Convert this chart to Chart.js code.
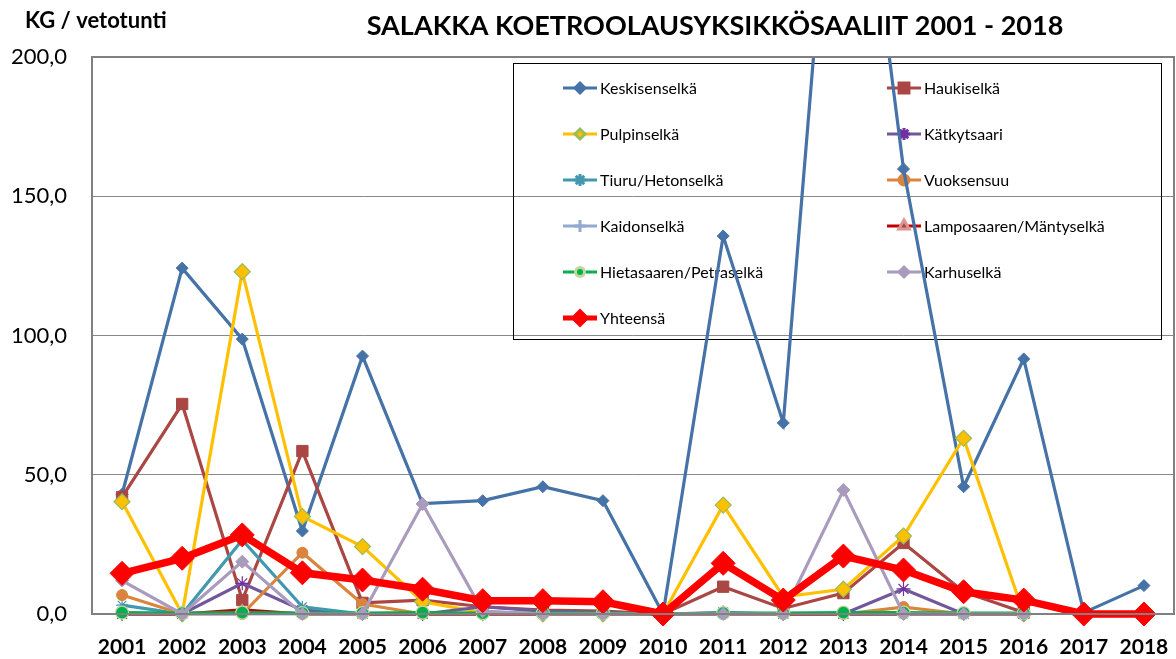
<!DOCTYPE html>
<html><head><meta charset="utf-8">
<script src="https://cdn.jsdelivr.net/npm/chart.js@4.4.0/dist/chart.umd.min.js"></script>
<style>html,body{margin:0;padding:0;background:#fff;}#wrap{width:1176px;height:659px;position:relative;}</style>
</head><body><div id="wrap"><canvas id="c" width="1176" height="659"></canvas></div>
<script>
const years = ['2001','2002','2003','2004','2005','2006','2007','2008','2009','2010','2011','2012','2013','2014','2015','2016','2017','2018'];
const keskisenselka = [43, 124.2, 98.7, 29.8, 92.6, 39.6, 40.7, 45.7, 40.7, 0, 135.7, 68.6, 330, 159.8, 45.7, 91.6, 0.5, 10.2];
const haukiselka = [42, 75.4, 5, 58.5, 4, 5, 2.6, 1.4, 1, 0, 9.8, 2, 7.5, 25.5, 8, 0.5, null, null];
const pulpinselka = [40.3, 0, 122.9, 35, 24.2, 4.4, 0.5, 0, 0, 0, 39.1, 6.2, 8.9, 28, 63.1, 0, null, null];
const katkytsaari = [0, 0, 11, 1.4, 0, 0, 2.6, 1, 0.5, 0, 0.5, 0, 0, 9, 0, 0, null, null];
const tiuru = [3.2, 0, 26.6, 2.6, 0, 0, 0, 0, 0, 0, 0, 0, 0, 0, 0, 0, null, null];
const vuoksensuu = [6.8, 0, 0, 22, 3.6, 0, 0, 0, 0, 0, 0, 0, 0, 2.5, 0, 0, null, null];
const kaidonselka = [0, 0, 0, 0, 0, 0, 0, 0, 0, 0, 0, 0, 0, 0, 0, 0, null, null];
const lamposaari = [0, 0, 1.5, 0, 0, 0, 0, 0, 0, 0, 0, 0, 0, 0, 0, 0, null, null];
const hietasaari = [0.5, 0.3, 0.5, 0.3, 0.3, 0.5, 0.3, 0.3, 0.3, 0, 0.3, 0.3, 0.5, 0.5, 0.3, 0.3, null, null];
const karhuselka = [12, 0, 18.8, 0, 0, 39.5, 1, 0, 0, 0, 0, 0, 44.5, 0, 0, 0, null, null];
const yhteensa = [14.6, 20, 28.4, 14.8, 12.2, 8.9, 4.8, 4.8, 4.4, 0, 18.2, 5, 20.8, 15.8, 8, 5, 0, 0];
const yTicks = [0, 50, 100, 150, 200];

const series = [
  {label:'Keskisenselkä', data:keskisenselka, line:'#4572A7', fill:'#4572A7', border:'#4572A7', style:'rectRot', r:6, bw:1, lr:5},
  {label:'Haukiselkä', data:haukiselka, line:'#AA4643', fill:'#AA4643', border:'#AA4643', style:'rect', r:8, bw:1, lr:7},
  {label:'Pulpinselkä', data:pulpinselka, line:'#FFC000', fill:'#FFC000', border:'#9BBB59', style:'rectRot', r:8, bw:1.2, lr:5},
  {label:'Kätkytsaari', data:katkytsaari, line:'#71589A', fill:'#7030A0', border:'#7030A0', style:'star', r:7, bw:1.2, lr:6},
  {label:'Tiuru/Hetonselkä', data:tiuru, line:'#4198AF', fill:'#4198AF', border:'#4198AF', style:'star', r:6, bw:1.2, lr:6},
  {label:'Vuoksensuu', data:vuoksensuu, line:'#DB843D', fill:'#DB843D', border:'#DB843D', style:'circle', r:5.5, bw:1, lr:5},
  {label:'Kaidonselkä', data:kaidonselka, line:'#93A9CF', fill:'#93A9CF', border:'#93A9CF', style:'cross', r:6, bw:1.5, lr:6},
  {label:'Lamposaaren/Mäntyselkä', data:lamposaari, line:'#C00000', fill:'#AA4643', border:'#D99694', style:'triangle', r:6, bw:1, lr:6},
  {label:'Hietasaaren/Petraselkä', data:hietasaari, line:'#00B050', fill:'#00B050', border:'#C3D69B', style:'circle', r:6.5, bw:1.2, lr:4.5},
  {label:'Karhuselkä', data:karhuselka, line:'#A99BBD', fill:'#A99BBD', border:'#A99BBD', style:'rectRot', r:6.5, bw:1, lr:5},
  {label:'Yhteensä', data:yhteensa, line:'#FF0000', fill:'#FF0000', border:'#FF0000', style:'rectRot', r:12, bw:1, lr:6, lw:7.5, llw:5}
];

const n = series.length;
const datasets = series.map((s, i) => ({
  label: s.label,
  data: s.data,
  borderColor: s.line,
  backgroundColor: s.fill,
  borderWidth: s.lw || 3.2,
  pointStyle: s.style,
  pointRadius: s.r,
  pointHoverRadius: s.r,
  pointBackgroundColor: s.fill,
  pointBorderColor: s.border,
  pointBorderWidth: s.bw,
  tension: 0,
  order: n - i,
  clip: {top: 0, left: false, right: false, bottom: false}
}));

const FONT = 'Lato, "Open Sans", sans-serif';

const decor = {
  id: 'decor',
  beforeDatasetsDraw(chart) {
    const ctx = chart.ctx;
    ctx.save();
    const bx = 513, by = 63, bw = 648, bh = 276;
    ctx.strokeStyle = '#000';
    ctx.lineWidth = 1;
    ctx.strokeRect(bx + 0.5, by + 0.5, bw, bh);
    ctx.font = '16px ' + FONT;
    ctx.textBaseline = 'middle';
    ctx.textAlign = 'left';
    series.forEach((s, i) => {
      const col = i % 2, row = Math.floor(i / 2);
      const x0 = col === 0 ? 563 : 887;
      const y = 88 + row * 46;
      ctx.strokeStyle = s.line;
      ctx.lineWidth = s.llw || 3;
      ctx.beginPath(); ctx.moveTo(x0, y); ctx.lineTo(x0 + 34, y); ctx.stroke();
      ctx.fillStyle = s.fill; ctx.strokeStyle = s.border;
      Chart.helpers.drawPoint(ctx, {pointStyle: s.style, radius: s.lr, rotation: 0, borderWidth: s.bw}, x0 + 17, y);
      ctx.fillStyle = '#000';
      ctx.fillText(s.label, x0 + 37, y + 1);
    });
    ctx.restore();
  },
  afterDraw(chart) {
    const ctx = chart.ctx, a = chart.chartArea;
    ctx.save();
    ctx.strokeStyle = '#808080';
    ctx.lineWidth = 2;
    ctx.strokeRect(a.left, a.top, a.right - a.left, a.bottom - a.top);
    ctx.fillStyle = '#000';
    ctx.textBaseline = 'alphabetic';
    ctx.textAlign = 'center';
    ctx.font = 'bold 27px ' + FONT;
    ctx.fillText('SALAKKA KOETROOLAUSYKSIKKÖSAALIIT 2001 - 2018', 715, 35);
    ctx.textAlign = 'left';
    ctx.font = 'bold 22px ' + FONT;
    ctx.fillText('KG / vetotunti', 25, 28);
    ctx.restore();
  }
};

new Chart(document.getElementById('c'), {
  type: 'line',
  data: { labels: years, datasets },
  options: {
    responsive: false,
    animation: false,
    devicePixelRatio: 1,
    layout: { autoPadding: false, padding: { top: 57, right: 2, left: 0, bottom: 0 } },
    plugins: { legend: { display: false }, title: { display: false }, tooltip: { enabled: false } },
    scales: {
      x: {
        offset: true,
        grid: { display: false, drawTicks: false },
        border: { display: true, color: '#808080', width: 2 },
        ticks: { color: '#000', font: { family: FONT, size: 21, weight: 'bold', lineHeight: 3.2 }, padding: 0, maxRotation: 0, autoSkip: false },
        afterFit(s) { s.height = 45; }
      },
      y: {
        min: 0, max: 200,
        afterBuildTicks(s) { s.ticks = yTicks.map(v => ({ value: v })); },
        grid: { color: '#888888', lineWidth: 1, drawTicks: false },
        border: { display: true, color: '#808080', width: 2 },
        ticks: { color: '#000', font: { family: FONT, size: 22 }, padding: 25, callback: v => v.toFixed(1).replace('.', ',') },
        afterFit(s) { s.width = 92; }
      }
    }
  },
  plugins: [decor]
});
</script></body></html>
